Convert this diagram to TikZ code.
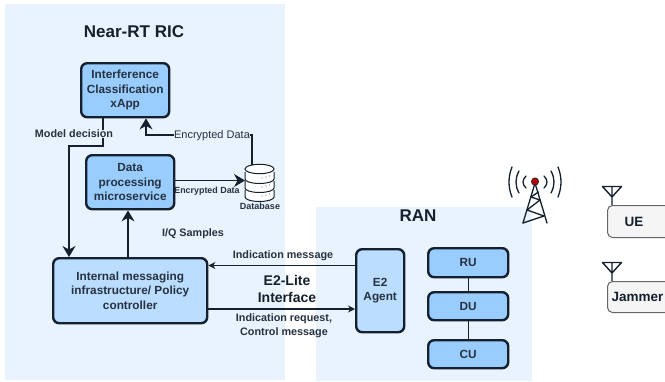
\documentclass[tikz,border=0pt]{standalone}
\usepackage{fontspec}
\setmainfont{Liberation Sans}
\usetikzlibrary{arrows.meta}
\definecolor{panel}{HTML}{E8F3FE}
\definecolor{boxa}{HTML}{99CCFF}
\definecolor{boxb}{HTML}{BBDDFF}
\definecolor{ink}{HTML}{14202E}
\definecolor{txt}{HTML}{26323F}
\definecolor{devfill}{HTML}{F5F5F5}
\tikzset{
  x=1pt,y=-1pt,
  panelbox/.style={fill=panel,draw=none,inner sep=0pt},
  blockbox/.style={draw=ink,line width=2.4pt,rounded corners=6pt,fill=boxa,align=center,font=\bfseries\fontsize{11.8}{14.6}\selectfont,text=txt,inner sep=0pt},
  devbox/.style={draw=gray!80!black,line width=1pt,rounded corners=5pt,fill=devfill,font=\bfseries\fontsize{13.5}{15}\selectfont,text=ink,inner sep=0pt},
  wire/.style={draw=ink,line width=1.2pt},
  bigarrow/.style={wire,-{Stealth[length=11pt,width=13pt]}},
  midarrow/.style={wire,-{Stealth[length=7pt,width=7pt]}},
  lab/.style={font=\bfseries\fontsize{10.8}{14}\selectfont,text=txt,align=center,inner sep=1pt},
  title/.style={font=\bfseries\fontsize{17}{20}\selectfont,text=ink,align=center,inner sep=0pt},
}
\newcommand{\boxat}[7][blockbox]{% style, name, x0,y0,x1,y1, text
  \node[#1,minimum width=#5-#3,minimum height=#6-#4,anchor=north west] (#2) at (#3,#4) {#7};}
\begin{document}
\begin{tikzpicture}
\useasboundingbox (0,0) rectangle (665,381);
\fill[white] (0,0) rectangle (665,381);
% panels
\node[panelbox,minimum width=280pt,minimum height=376pt,anchor=north west] (ric) at (5,4) {};
\node[panelbox,minimum width=216pt,minimum height=174pt,anchor=north west] (ran) at (316,207) {};
\node[title] (rictitle) at (134,32) {Near-RT RIC};
\node[title] (rantitle) at (418,216) {RAN};
% blocks
\boxat{xapp}{80}{62}{168}{116}{Interference\\Classification\\xApp}
\boxat{dp}{85}{154}{173}{208}{Data\\processing\\microservice}
\boxat[blockbox,fill=boxb]{imi}{52}{257}{206}{322}{Internal messaging\\infrastructure/ Policy\\controller}
\boxat[blockbox,fill=boxb]{e2}{355}{248}{403}{331}{E2\\Agent}
\boxat{ru}{427}{247}{507}{276}{RU}
\boxat{du}{427}{291}{507}{319}{DU}
\boxat{cu}{427}{339}{507}{367}{CU}
\boxat[devbox]{ue}{607}{205}{675}{237}{\hspace*{-15pt}UE}
\boxat[devbox]{jam}{607}{281}{675}{312}{\hspace*{-8pt}Jammer}
% database
\coordinate (db) at (259.5,180);
\begin{scope}[draw=ink,line width=1pt]
  \foreach \yy in {190,181,172}{
    \fill[white] (245,\yy) -- (245,\yy+7) arc[start angle=180,end angle=360,x radius=14.5pt,y radius=4.5pt] -- (274,\yy) -- cycle;
    \draw (245,\yy) -- (245,\yy+7) arc[start angle=180,end angle=360,x radius=14.5pt,y radius=4.5pt] -- (274,\yy);
    \fill[ink!60] (266,\yy+5) circle (0.6pt) (262,\yy+6) circle (0.6pt) (269.5,\yy+4) circle (0.6pt);
  }
  \draw[fill=white] (259.5,169) ellipse[x radius=14.5pt,y radius=4.7pt];
\end{scope}
\coordinate (dbtop) at (252,164.5);
\coordinate (dbleft) at (245,180.5);
\node[lab,font=\bfseries\fontsize{9}{10}\selectfont] (dblab) at (260,206) {Database};
% connectors
\coordinate (md1) at (103,146);
\coordinate (md2) at (69,146);
\coordinate (ed1) at (252,135);
\coordinate (ed2) at (146,135);
\draw[bigarrow] (xapp.south -| md1) -- (md1) -- (md2) -- (md2 |- imi.north);
\draw[bigarrow] (dbtop) -- (ed1) -- (ed2) -- (ed2 |- xapp.south);
\draw[bigarrow] (dp.east |- dbleft) -- (dbleft);
\draw[bigarrow] (imi.north -| 128,0) -- (dp.south -| 128,0);
\draw[midarrow] (e2.west |- 0,265.5) -- (imi.east |- 0,265.5);
\draw[midarrow] (imi.east |- 0,309) -- (e2.west |- 0,309);
\draw[wire] (ru) -- (du);
\draw[wire] (du) -- (cu);
% labels
\node[lab,fill=panel,inner xsep=2pt,inner ysep=0.5pt] (mdlab) at (74,134) {Model decision};
\node[lab,fill=panel,font=\fontsize{11}{12}\selectfont,inner sep=0.5pt] (edlab) at (212,135.5) {Encrypted Data};
\node[lab,font=\bfseries\fontsize{8.9}{10}\selectfont] (ed2lab) at (207,191) {Encrypted Data};
\node[lab] (iq) at (193,234) {I/Q Samples};
\node[lab] (indm) at (283,256) {Indication message};
\node[lab,font=\bfseries\fontsize{14}{17}\selectfont,text=ink] (e2lite) at (287,288.5) {E2-Lite\\Interface};
\node[lab] (indr) at (284,326) {Indication request,\\Control message};
% antennas and tower
\foreach \nm/\bx/\by in {a1/612/205,a2/612/281}{
  \coordinate (\nm) at (\bx,\by);
  \draw[ink,line width=1.4pt,line join=round] (\nm) -- ++(0,-18) (\bx-9.5,\by-18.5) -- (\bx+9.5,\by-18.5) -- (\bx,\by-8) -- cycle;
}
\begin{scope}[ink,line width=1.3pt,line cap=round,line join=round]
  \draw (535,183) -- (523,223) (535,183) -- (547,223);
  \draw (531,197) -- (540,200) -- (527,210) -- (544,216) -- (523,223);
  \draw (531,197) -- (538.5,192);
  \foreach \r/\h in {9/6,16/11,23/15}{
    \draw (535-\r,182-\h) .. controls (535-\r-4,182-\h/3) and (535-\r-4,182+\h/3) .. (535-\r,182+\h);
    \draw (535+\r,182-\h) .. controls (535+\r+4,182-\h/3) and (535+\r+4,182+\h/3) .. (535+\r,182+\h);
  }
  \draw[fill=red!75!black,line width=0.7pt] (535,181.5) circle (3.6pt);
\end{scope}
\end{tikzpicture}
\end{document}
